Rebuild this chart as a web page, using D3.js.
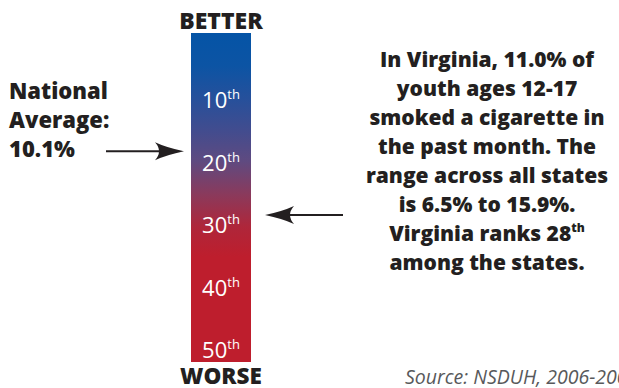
<!DOCTYPE html>
<html><head><meta charset="utf-8">
<script src="https://cdn.jsdelivr.net/npm/d3@7"></script>
<style>
html,body{margin:0;padding:0;background:#fff;overflow:hidden;}
svg{display:block;font-family:"Open Sans",sans-serif;}
</style></head>
<body>
<script>
// ---- data ----
const rankTicks = [10, 20, 30, 40, 50];
const rankSuffix = "th";
const rankDomain = [0, 50];
const topLabel = "BETTER";
const bottomLabel = "WORSE";
const nationalAverageLines = ["National", "Average:", "10.1%"];
const nationalAveragePos = 18.2;   // position on rank scale
const stateRank = 28;
const stateTextLines = [
  ["In Virginia, 11.0% of"],
  ["youth ages 12-17"],
  ["smoked a cigarette in"],
  ["the past month. The"],
  ["range across all states"],
  ["is 6.5% to 15.9%."],
  ["Virginia ranks 28", "th"],
  ["among the states."]
];
const sourceText = "Source: NSDUH, 2006-2007";
const gradientStops = [
  [0, "#0554a6"], [0.1, "#0c54a4"], [0.2, "#26509b"], [0.3, "#434c8e"],
  [0.39, "#5f4a80"], [0.49, "#8a3a5c"], [0.59, "#af263a"], [0.68, "#be1e2d"], [1, "#be1e2d"]
];

// ---- layout ----
const W = 619, H = 388;
const svg = d3.select("body").append("svg").attr("width", W).attr("height", H);
const barX = 191, barW = 60, barTop = 33, barBottom = 362;
const y = d3.scaleLinear().domain(rankDomain).range([37.5, 350]);

const defs = svg.append("defs");
const grad = defs.append("linearGradient").attr("id", "g")
  .attr("x1", 0).attr("y1", 0).attr("x2", 0).attr("y2", 1);
grad.selectAll("stop").data(gradientStops).join("stop")
  .attr("offset", d => d[0]).attr("stop-color", d => d[1]);

svg.append("rect").attr("x", barX).attr("y", barTop)
  .attr("width", barW).attr("height", barBottom - barTop).attr("fill", "url(#g)");

const cx = barX + barW / 2;
const tl = svg.append("g").selectAll("text").data(rankTicks).join("text")
  .attr("x", cx).attr("y", d => y(d) + 8)
  .attr("text-anchor", "middle").attr("fill", "#fff")
  .attr("font-size", 22);
tl.append("tspan").text(d => d);
tl.append("tspan").text(rankSuffix).attr("font-size", 13).attr("dy", -9);

svg.append("text").attr("x", cx).attr("y", 29).attr("text-anchor", "middle")
  .attr("font-weight", 800).attr("font-size", 23).attr("fill", "#231f20").text(topLabel);
svg.append("text").attr("x", cx).attr("y", 383.5).attr("text-anchor", "middle")
  .attr("font-weight", 800).attr("font-size", 22.5).attr("fill", "#231f20").text(bottomLabel);

// left annotation
svg.append("g").selectAll("text").data(nationalAverageLines).join("text")
  .attr("x", 9).attr("y", (d, i) => 99 + i * 29)
  .attr("font-weight", 800).attr("font-size", 22).attr("fill", "#231f20").text(d => d);

function arrow(x1, x2, yy) {
  const dir = Math.sign(x2 - x1);
  const g = svg.append("g");
  g.append("line").attr("x1", x1).attr("x2", x2 - dir * 12).attr("y1", yy).attr("y2", yy)
    .attr("stroke", "#231f20").attr("stroke-width", 2.2);
  const L = 29, hw = 9, notch = 21;
  const p = d3.path();
  p.moveTo(x2, yy);
  p.quadraticCurveTo(x2 - dir * L * 0.6, yy - hw * 0.4, x2 - dir * L, yy - hw);
  p.quadraticCurveTo(x2 - dir * notch, yy, x2 - dir * L, yy + hw);
  p.quadraticCurveTo(x2 - dir * L * 0.6, yy + hw * 0.4, x2, yy);
  p.closePath();
  g.append("path").attr("d", p.toString()).attr("fill", "#231f20");
}
arrow(106, 184, y(nationalAveragePos));
arrow(343, 265, y(stateRank) + 2.5);

// right annotation
const rt = svg.append("g").selectAll("text").data(stateTextLines).join("text")
  .attr("x", 487).attr("y", (d, i) => 67 + i * 29).attr("text-anchor", "middle")
  .attr("font-weight", 800).attr("font-size", 21).attr("fill", "#231f20");
rt.append("tspan").text(d => d[0]);
rt.filter(d => d.length > 1).append("tspan").text(d => d[1])
  .attr("font-size", 12).attr("dy", -9);

svg.append("text").attr("x", 405).attr("y", 384).attr("font-style", "italic")
  .attr("font-size", 19.5).attr("fill", "#58595b").text(sourceText);
</script>
</body></html>
